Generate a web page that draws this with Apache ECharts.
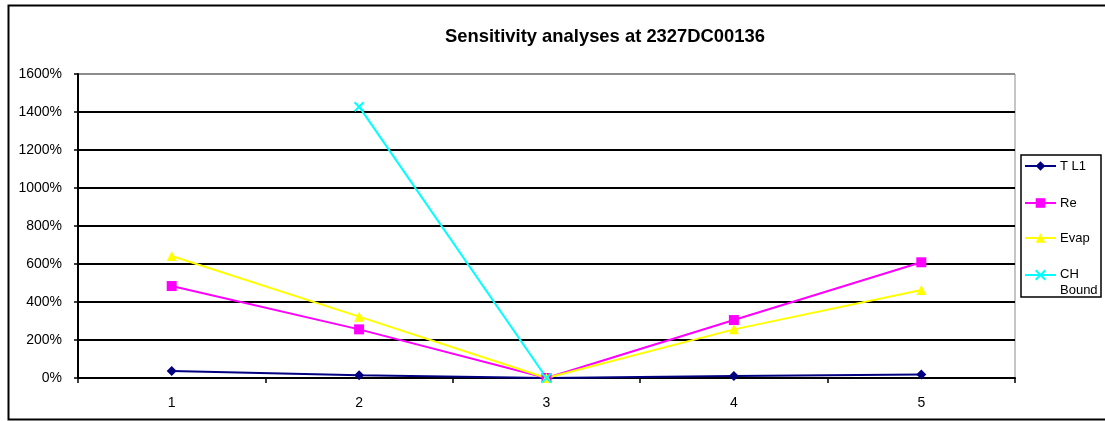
<!DOCTYPE html>
<html>
<head>
<meta charset="utf-8">
<style>
  html, body { margin: 0; padding: 0; background: #fff; }
  #chart { width: 1105px; height: 421px; }
</style>
<script src="https://cdn.jsdelivr.net/npm/echarts@6/dist/echarts.min.js"></script>
</head>
<body>
<div id="chart"></div>
<script>
// Scenario runs along the x axis
const categories = ['1', '2', '3', '4', '5'];

// Relative change in percent per parameter
const tl1 = [37, 15, 0, 10, 19];
const re = [484, 256, 0, 305, 609];
const evap = [642, 323, 0, 256, 463];
const chBound = [null, 1428, 0, null, null];

const yTicks = { min: 0, max: 1600, interval: 200 };

const font = 'Arial, "Liberation Sans", sans-serif';
const chart = echarts.init(document.getElementById('chart'), null, { renderer: 'canvas' });

const splitColors = [];
for (let v = yTicks.min; v <= yTicks.max; v += yTicks.interval) {
  splitColors.push(v === yTicks.max ? '#8c8c8c' : '#000');
}

function lineSeries(name, data, color, symbol, size, extra) {
  return Object.assign({
    name: name,
    type: 'line',
    data: data,
    symbol: symbol,
    symbolSize: size,
    showAllSymbol: true,
    connectNulls: false,
    animation: false,
    lineStyle: { color: color, width: 2 },
    itemStyle: { color: color },
    emphasis: { disabled: true }
  }, extra || {});
}

// One single-entry legend per series so each row can sit at its own height.
// The two-line entry keeps its first line level with the icon.
const legendRows = [
  { name: 'T L1', center: 166 },
  { name: 'Re', center: 203 },
  { name: 'Evap', center: 238 },
  { name: 'CH Bound', center: 275, twoLines: true }
];
const legends = legendRows.map(function (row) {
  const lh = 15;
  return {
    orient: 'vertical',
    left: 1024,
    top: row.twoLines ? row.center - lh - 0.5 : row.center - lh / 2,
    padding: 0,
    itemWidth: 31,
    itemHeight: 12,
    selectedMode: false,
    textStyle: {
      fontFamily: font, fontSize: 13, color: '#000', lineHeight: lh,
      padding: [0, 0, 0, -1],
      rich: {
        first: { fontFamily: font, fontSize: 13, color: '#000', lineHeight: lh * 2 },
        second: { fontFamily: font, fontSize: 13, color: '#000', lineHeight: 1 }
      }
    },
    formatter: function () {
      return row.twoLines ? '{first|CH}\n{second|Bound}' : row.name;
    },
    data: [row.name]
  };
});

chart.setOption({
  backgroundColor: '#fff',
  animation: false,
  textStyle: { fontFamily: font },
  title: {
    text: 'Sensitivity analyses at 2327DC00136',
    left: 600,
    textAlign: 'center',
    top: 23,
    textStyle: { fontFamily: font, fontSize: 18.4, fontWeight: 'bold', color: '#000' }
  },
  graphic: [{
    type: 'rect',
    silent: true,
    shape: { x: 8.5, y: 5.5, width: 1110, height: 414 },
    style: { fill: 'none', stroke: '#000', lineWidth: 2 },
    z: -1
  }, {
    type: 'rect',
    silent: true,
    shape: { x: 1021, y: 155, width: 80, height: 142 },
    style: { fill: '#fff', stroke: '#000', lineWidth: 1.5 },
    z: -1
  }],
  grid: {
    left: 78, right: 90, top: 74, bottom: 43,
    show: true,
    borderColor: '#8c8c8c',
    borderWidth: 1,
    backgroundColor: '#fff'
  },
  legend: legends,
  xAxis: {
    type: 'category',
    data: categories,
    boundaryGap: true,
    axisLine: { lineStyle: { color: '#000', width: 2 } },
    axisTick: { show: true, length: 5, lineStyle: { color: '#000', width: 1.5 } },
    axisLabel: { color: '#000', fontSize: 14, margin: 18, fontFamily: font },
    splitLine: { show: false }
  },
  yAxis: {
    type: 'value',
    min: yTicks.min,
    max: yTicks.max,
    interval: yTicks.interval,
    axisLine: { show: true, lineStyle: { color: '#000', width: 2 } },
    axisTick: { show: true, length: 4, lineStyle: { color: '#000', width: 1.5 } },
    axisLabel: {
      color: '#000', fontSize: 14, margin: 16, fontFamily: font,
      formatter: function (v) { return v + '%'; }
    },
    splitLine: { show: true, lineStyle: { color: splitColors, width: 2 } }
  },
  series: [
    lineSeries('T L1', tl1, '#000080', 'diamond', 10),
    lineSeries('Re', re, '#ff00ff', 'rect', 10),
    lineSeries('Evap', evap, '#ffff00', 'triangle', 10),
    lineSeries('CH Bound', chBound, '#00ffff', 'path://M0,0L10,10M10,0L0,10', 9, {
      itemStyle: { color: '#00ffff', borderColor: '#00ffff', borderWidth: 2 }
    })
  ]
});
</script>
</body>
</html>
